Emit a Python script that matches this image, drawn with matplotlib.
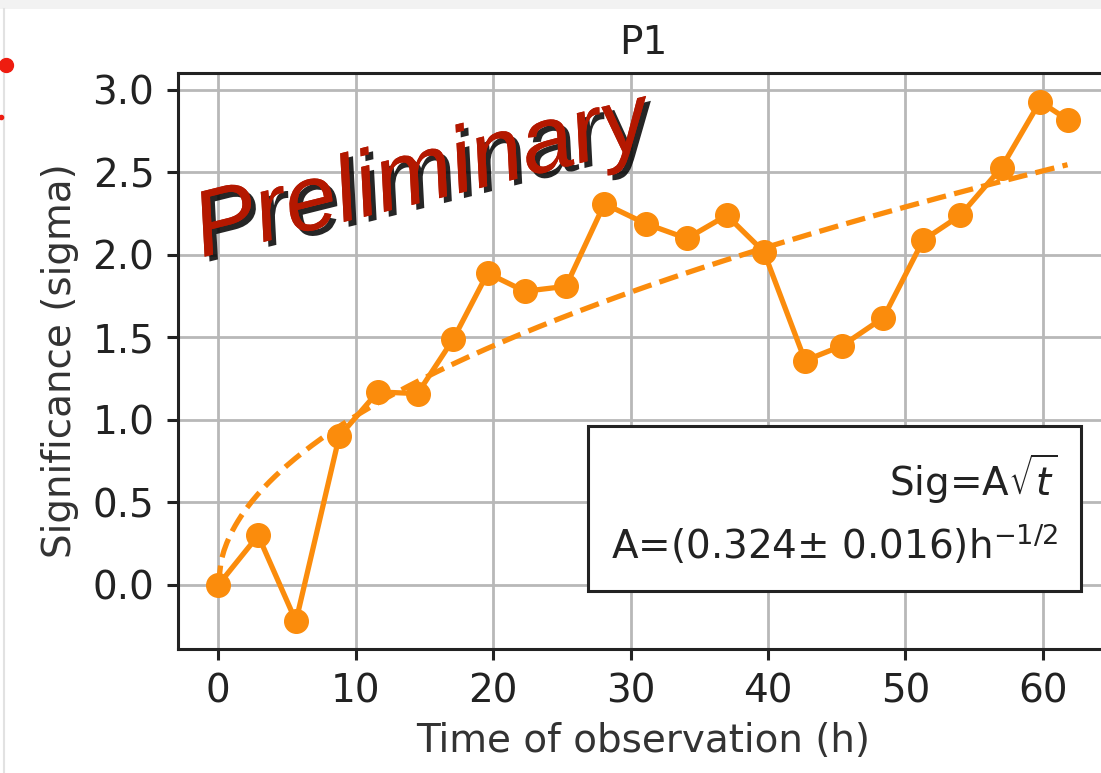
import numpy as np
import matplotlib
matplotlib.use('Agg')
import matplotlib.pyplot as plt
import matplotlib.patheffects as pe
from matplotlib.lines import Line2D
from matplotlib.patches import Rectangle

# observation time (h) and significance (sigma)
t_obs = [0.0, 2.9, 5.65, 8.8, 11.6, 14.5, 17.1, 19.6, 22.3, 25.3, 28.1, 31.1,
         34.1, 37.0, 39.7, 42.7, 45.4, 48.4, 51.3, 54.0, 57.0, 59.8, 61.8]
sig = [0.0, 0.30, -0.22, 0.90, 1.17, 1.16, 1.49, 1.89, 1.78, 1.81, 2.31, 2.19,
       2.10, 2.24, 2.02, 1.36, 1.45, 1.62, 2.09, 2.24, 2.53, 2.93, 2.82]

A_fit = 0.324
A_err = 0.016

orange = '#fb8c0c'
fs = 28

fig = plt.figure(figsize=(11.01, 7.73), dpi=100)
ax = fig.add_axes([0.1617, 0.1604, 0.8447, 0.7452])

ax.plot(t_obs, sig, '-o', color=orange, lw=3.8, ms=17, zorder=3)
tt = np.linspace(0, max(t_obs), 300)
ax.plot(tt, A_fit * np.sqrt(tt), '--', color=orange, lw=3.8, zorder=2)

ax.set_xlim(-2.93, 64.75)
ax.set_ylim(-0.388, 3.103)
ax.grid(True, color='#b8b8b8', lw=2.0)
ax.set_axisbelow(True)
for s in ax.spines.values():
    s.set_linewidth(2.2)
    s.set_color('#222222')
ax.tick_params(labelsize=fs, length=8, width=2.2, pad=9, colors='#222222')
ax.set_title('P1', fontsize=fs, pad=14, color='#222222')
ax.set_xlabel('Time of observation (h)', fontsize=fs, labelpad=8, color='#333333')
ax.set_ylabel('Significance (sigma)', fontsize=fs, labelpad=10, color='#333333')

fit_txt = 'Sig=A$\\sqrt{t}$\nA=(%.3f$\\pm$ %.3f)h$^{-1/2}$' % (A_fit, A_err)
ax.text(0.946, 0.142, fit_txt, transform=ax.transAxes, fontsize=fs,
        ha='right', va='bottom', multialignment='right', linespacing=1.45,
        color='#222222', zorder=5,
        bbox=dict(boxstyle='square,pad=0.6', fc='white', ec='#222222', lw=2.2))

ax.text(0.262, 0.818, 'Preliminary', transform=ax.transAxes,
        family='Liberation Sans', style='italic', fontsize=67,
        color='#b41800', rotation=14, ha='center', va='center',
        rotation_mode='anchor', zorder=6,
        path_effects=[pe.withSimplePatchShadow(offset=(3.5, -3.5),
                                               shadow_rgbFace='black',
                                               alpha=0.85),
                      pe.Normal()])

# slide leftovers around the plot
fig.add_artist(Rectangle((0, 1 - 9 / 773), 1, 9 / 773, transform=fig.transFigure,
                         color='#f2f2f2', lw=0))
fig.add_artist(Line2D([4 / 1101, 4 / 1101], [0, 1 - 9 / 773],
                      transform=fig.transFigure, color='#e2e2e2', lw=1.5))
fig.add_artist(Line2D([6 / 1101], [1 - 65 / 773], transform=fig.transFigure,
                      marker='o', ms=10, color='#ee1c10', lw=0))
fig.add_artist(Line2D([0.5 / 1101], [1 - 117 / 773], transform=fig.transFigure,
                      marker='o', ms=3, color='#ee1c10', lw=0))

fig.savefig('out.png', dpi=100)
